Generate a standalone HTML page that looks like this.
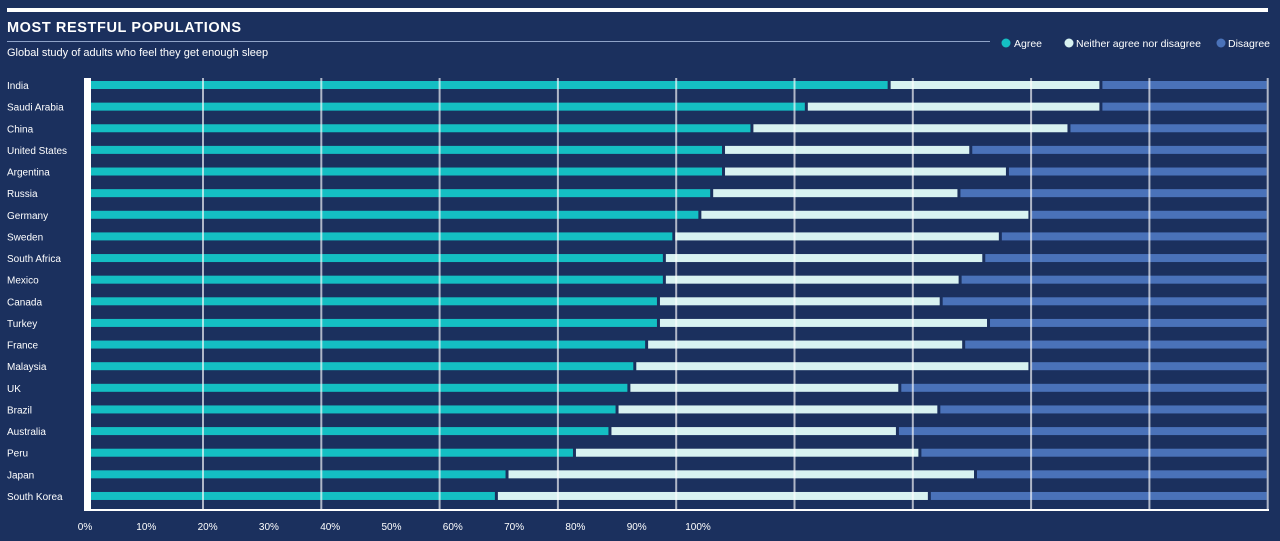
<!DOCTYPE html>
<html><head><meta charset="utf-8"><style>
html,body{margin:0;padding:0;background:#1b305e;}
body{width:1280px;height:541px;overflow:hidden;position:relative;font-family:"Liberation Sans",sans-serif;color:#fff;}
svg{position:absolute;left:0;top:0;}
</style></head><body>
<svg id="chart" width="1280" height="541" xmlns="http://www.w3.org/2000/svg">
<rect x="0" y="0" width="1280" height="541" fill="#1b305e"/>
<rect x="7" y="8" width="1261" height="4" fill="#ffffff"/>
<text x="7" y="32" font-size="14.5" font-weight="bold" fill="#fff" letter-spacing="0.6">MOST RESTFUL POPULATIONS</text>
<rect x="7" y="41" width="983" height="1" fill="#8fa3c8"/>
<text x="7" y="56" font-size="11" fill="#fff">Global study of adults who feel they get enough sleep</text>
<g>
<circle cx="1006" cy="43" r="4.5" fill="#14bfc3"/>
<text x="1014" y="47" font-size="10.5" fill="#fff">Agree</text>
<circle cx="1069" cy="43" r="4.5" fill="#d8f2f1"/>
<text x="1076" y="47" font-size="10.5" fill="#fff">Neither agree nor disagree</text>
<circle cx="1221" cy="43" r="4.5" fill="#4a72b9"/>
<text x="1228" y="47" font-size="10.5" fill="#fff">Disagree</text>
</g>
<g id="bars"></g>
<g id="grid"></g>
<g id="labels"></g>
<g id="ticks"></g>
</svg>
<script>
const countries=["India","Saudi Arabia","China","United States","Argentina","Russia","Germany","Sweden","South Africa","Mexico","Canada","Turkey","France","Malaysia","UK","Brazil","Australia","Peru","Japan","South Korea"];
const agree=[68,61,56.4,54,54,53,52,49.8,49,49,48.5,48.5,47.5,46.5,46,45,44.4,41.4,35.7,34.8];
const neither=[17.9,24.9,26.8,20.9,24,20.9,27.9,27.6,27,25,23.9,27.9,26.8,33.4,22.9,27.2,24.3,29.2,39.6,36.6];
const disagree=[14.1,14.1,16.8,25.1,22,26.1,20.1,22.6,24,26,27.6,23.6,25.7,20.1,31.1,27.8,31.3,29.4,24.7,28.6];
const tickLabels=["0%","10%","20%","30%","40%","50%","60%","70%","80%","90%","100%"];
const gridValues=[10,20,30,40,50,60,70,80,90,100];

const NS="http://www.w3.org/2000/svg";
const x0=84.7, pxPer=11.83, rowTop=85, rowStep=21.63, barH=8;
const xs=v=>x0+v*pxPer;
const ys=i=>rowTop+i*rowStep;
function mk(tag,attrs,parent){const e=document.createElementNS(NS,tag);for(const k in attrs)e.setAttribute(k,attrs[k]);parent.appendChild(e);return e;}
const gb=document.getElementById('bars'),gg=document.getElementById('grid'),gl=document.getElementById('labels'),gt=document.getElementById('ticks');
const colors=["#14bfc3","#d8f2f1","#4a72b9"];
const segNames=["agree","neither","disagree"];
countries.forEach((c,i)=>{
  const vals=[agree[i],neither[i],disagree[i]];
  let acc=0;
  vals.forEach((v,j)=>{
    const xa=(j===0?91:xs(acc)+1.5), xb=xs(acc+v)-(j===2?1:1.5);
    const r=mk('rect',{x:xa,y:ys(i)-barH/2,width:Math.max(0,xb-xa),height:barH,fill:colors[j]},gb);
    
    
    acc+=v;
  });
  const t=mk('text',{x:7,y:ys(i)+4,'font-size':10,fill:'#fff'},gl);
  t.textContent=c;
  
  
});
gridValues.forEach(v=>{
  const l=mk('rect',{x:xs(v)-1,y:78,width:2,height:432,fill:'#ffffff','fill-opacity':0.65},gg);
  
  
});
const ax=mk('rect',{x:84,y:78,width:7,height:433,fill:'#fff'},gg);


const bx=mk('rect',{x:84,y:509,width:1185,height:2,fill:'#fff'},gg);


tickLabels.forEach((s,i)=>{
  const t=mk('text',{x:85+i*61.3,y:530,'font-size':10,fill:'#fff','text-anchor':'middle'},gt);
  t.textContent=s;
  
  
});
</script>
</body></html>
